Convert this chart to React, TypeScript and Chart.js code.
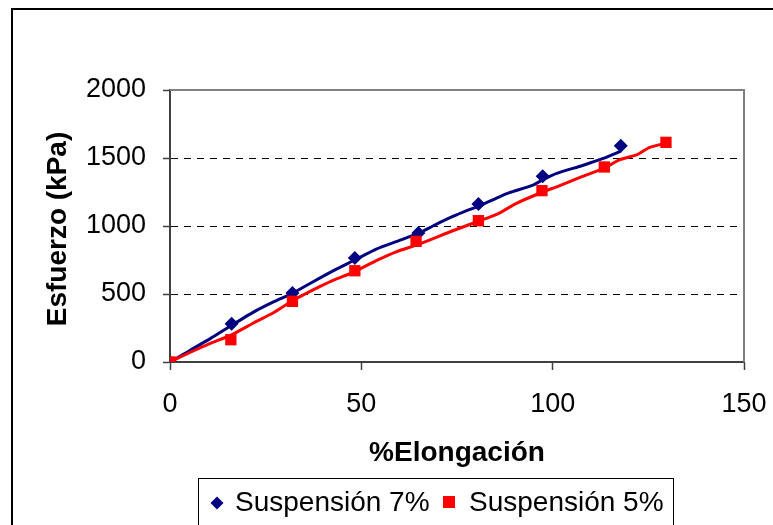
import React, { useEffect, useRef } from "react";
import { Chart, registerables } from "chart.js";

Chart.register(...registerables);

// Measured points: % elongation vs. stress (kPa)
const elongation7 = [0, 16.1, 32.0, 48.3, 64.9, 80.6, 97.4, 117.8];
const stress7 = [0, 281, 507, 765, 948, 1162, 1365, 1590];
const elongation5 = [0, 15.9, 32.0, 48.3, 64.3, 80.6, 97.2, 113.5, 129.6];
const stress5 = [0, 164, 446, 671, 887, 1039, 1260, 1434, 1615];

// Continuous test curves
const curve7X = [0, 5.2, 10.4, 16.1, 21.7, 26.9, 32.0, 37.4, 42.6, 48.3, 53.9, 59.1, 64.9, 68.7, 73.9, 78.2, 81.0, 86.1, 88.7, 94.8, 97.4, 100.9, 107.8, 113.0, 117.8];
const curve7Y = [0, 85, 170, 270, 365, 440, 505, 590, 670, 750, 830, 885, 945, 1000, 1070, 1120, 1150, 1215, 1245, 1300, 1340, 1385, 1445, 1495, 1550];
const curve5X = [0, 5.2, 10.4, 16.1, 21.7, 26.9, 32.0, 37.4, 42.6, 48.3, 53.9, 59.1, 64.9, 73.9, 80.6, 86.1, 90.4, 97.4, 101.7, 107.8, 113.5, 117.3, 122.1, 125.1, 129.6];
const curve5Y = [0, 70, 135, 200, 285, 360, 450, 530, 600, 665, 745, 810, 865, 965, 1035, 1095, 1165, 1250, 1295, 1365, 1425, 1485, 1525, 1575, 1610];

const xTicks = [0, 50, 100, 150];
const yTicks = [0, 500, 1000, 1500, 2000];

const seriesLabels = ["Suspensión 7%", "Suspensión 5%"];
const xTitle = "%Elongación";
const yTitle = "Esfuerzo (kPa)";

const NAVY = "#000080";
const RED = "#FF0000";
const FONT = '"Liberation Sans", Arial, sans-serif';

const toPoints = (xs: number[], ys: number[]) => xs.map((x, i) => ({ x, y: ys[i] }));

const framePlugin = {
  id: "frame",
  beforeDatasetsDraw(chart: any) {
    const { ctx, chartArea } = chart;
    ctx.save();
    ctx.strokeStyle = "#808080";
    ctx.lineWidth = 2;
    ctx.beginPath();
    ctx.moveTo(chartArea.left, chartArea.top);
    ctx.lineTo(chartArea.right, chartArea.top);
    ctx.lineTo(chartArea.right, chartArea.bottom);
    ctx.stroke();
    ctx.restore();
  },
  afterDraw(chart: any) {
    const { ctx, chartArea } = chart;
    ctx.save();
    // outer chart frame
    ctx.strokeStyle = "#000";
    ctx.lineWidth = 2;
    ctx.strokeRect(12, 9, 800, 600);

    // axis titles
    ctx.fillStyle = "#000";
    ctx.font = `bold 28px ${FONT}`;
    ctx.textAlign = "center";
    ctx.textBaseline = "middle";
    ctx.fillText(xTitle, (chartArea.left + chartArea.right) / 2, 453);
    ctx.save();
    ctx.translate(58, 229);
    ctx.rotate(-Math.PI / 2);
    ctx.fillText(yTitle, 0, 0);
    ctx.restore();

    // legend
    ctx.lineWidth = 1;
    ctx.strokeStyle = "#000";
    ctx.strokeRect(198.5, 478.5, 475, 70);
    ctx.font = `28px ${FONT}`;
    ctx.textAlign = "left";
    ctx.textBaseline = "middle";
    // diamond
    ctx.fillStyle = NAVY;
    ctx.beginPath();
    ctx.moveTo(217, 496.5);
    ctx.lineTo(223.5, 503);
    ctx.lineTo(217, 509.5);
    ctx.lineTo(210.5, 503);
    ctx.closePath();
    ctx.fill();
    ctx.fillStyle = "#000";
    ctx.fillText(seriesLabels[0], 235, 503);
    // square
    ctx.fillStyle = RED;
    ctx.fillRect(443, 496, 12, 12);
    ctx.fillStyle = "#000";
    ctx.fillText(seriesLabels[1], 469, 503);
    ctx.restore();
  },
};

export default function App() {
  const canvasRef = useRef<HTMLCanvasElement | null>(null);

  useEffect(() => {
    const canvas = canvasRef.current;
    if (!canvas) return;
    const chart = new Chart(canvas, {
      type: "scatter",
      data: {
        datasets: [
          {
            label: seriesLabels[1] + " marks",
            data: toPoints(elongation5, stress5),
            showLine: false,
            pointStyle: "rect",
            pointRadius: 8,
            pointBackgroundColor: RED,
            pointBorderColor: RED,
            pointBorderWidth: 0,
            order: 1,
          },
          {
            label: seriesLabels[0] + " marks",
            data: toPoints(elongation7, stress7),
            showLine: false,
            pointStyle: "rectRot",
            pointRadius: 7,
            pointBackgroundColor: NAVY,
            pointBorderColor: NAVY,
            pointBorderWidth: 0,
            order: 2,
          },
          {
            label: seriesLabels[1],
            data: toPoints(curve5X, curve5Y),
            showLine: true,
            borderColor: RED,
            borderWidth: 3,
            pointRadius: 0,
            tension: 0.2,
            order: 3,
          },
          {
            label: seriesLabels[0],
            data: toPoints(curve7X, curve7Y),
            showLine: true,
            borderColor: NAVY,
            borderWidth: 3,
            pointRadius: 0,
            tension: 0.2,
            order: 4,
          },
        ],
      },
      options: {
        responsive: false,
        animation: false,
        layout: { padding: { top: 90, right: 29, left: 0, bottom: 0 } },
        plugins: {
          legend: { display: false },
          tooltip: { enabled: false },
        },
        scales: {
          x: {
            type: "linear",
            min: xTicks[0],
            max: xTicks[xTicks.length - 1],
            afterBuildTicks: (scale: any) => {
              scale.ticks = xTicks.map((v) => ({ value: v }));
            },
            afterFit: (scale: any) => {
              scale.height = 163;
              scale.paddingLeft = 0;
              scale.paddingRight = 0;
            },
            ticks: {
              color: "#000",
              font: { family: FONT, size: 27 },
              padding: 18,
              maxRotation: 0,
              callback: (v: any) => String(v),
            },
            grid: {
              drawOnChartArea: false,
              drawTicks: true,
              tickLength: 8,
              tickColor: "#404040",
              tickWidth: 1.5,
            },
            border: { color: "#404040", width: 2 },
          },
          y: {
            type: "linear",
            min: yTicks[0],
            max: yTicks[yTicks.length - 1],
            afterBuildTicks: (scale: any) => {
              scale.ticks = yTicks.map((v) => ({ value: v }));
            },
            afterFit: (scale: any) => {
              scale.width = 170;
              scale.paddingTop = 0;
              scale.paddingBottom = 0;
            },
            ticks: {
              color: "#000",
              font: { family: FONT, size: 27 },
              padding: 17,
              callback: (v: any) => String(v),
            },
            grid: {
              color: (c: any) =>
                c.tick && (c.tick.value === yTicks[0] || c.tick.value === yTicks[yTicks.length - 1])
                  ? "rgba(0,0,0,0)"
                  : "#000",
              lineWidth: 1,
              drawTicks: true,
              tickLength: 7,
              tickColor: "#404040",
              tickWidth: 1.5,
            },
            border: { color: "#404040", width: 2, dash: [7, 6] },
          },
        },
      },
      plugins: [framePlugin],
    } as any);
    return () => chart.destroy();
  }, []);

  return (
    <div style={{ position: "fixed", left: 0, top: 0, width: 773, height: 525, background: "#fff" }}>
      <canvas ref={canvasRef} width={773} height={525} style={{ display: "block" }} />
    </div>
  );
}
